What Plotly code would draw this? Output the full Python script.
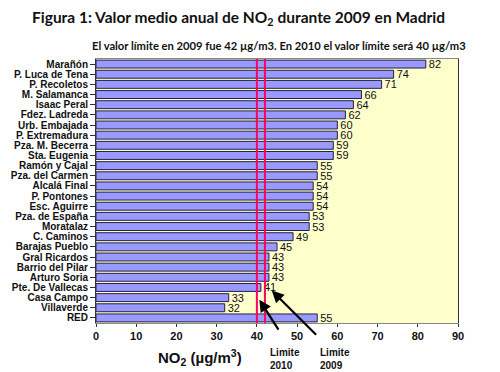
import plotly.graph_objects as go

stations = ["Marañón", "P. Luca de Tena", "P. Recoletos", "M. Salamanca", "Isaac Peral",
            "Fdez. Ladreda", "Urb. Embajada", "P. Extremadura", "Pza. M. Becerra", "Sta. Eugenia",
            "Ramón y Cajal", "Pza. del Carmen", "Alcalá Final", "P. Pontones", "Esc. Aguirre",
            "Pza. de España", "Moratalaz", "C. Caminos", "Barajas Pueblo", "Gral Ricardos",
            "Barrio del Pilar", "Arturo Soria", "Pte. De Vallecas", "Casa Campo", "Villaverde", "RED"]
no2 = [82, 74, 71, 66, 64, 62, 60, 60, 59, 59, 55, 55, 54, 54, 54, 53, 53, 49, 45, 43, 43, 43, 41, 33, 32, 55]
limit_2010 = 40
limit_2009 = 42
x_ticks = [0, 10, 20, 30, 40, 50, 60, 70, 80, 90]

font = "Liberation Sans, Arial, sans-serif"
tfont = "Lato, Open Sans, sans-serif"

L, R, T, B = 96, 42, 59, 49
W, H = 500, 372
PW, PH = W - L - R, H - T - B

def px(xp):
    return (xp - L) / PW

def py(yp):
    return 1 - (yp - T) / PH

fig = go.Figure()
fig.add_trace(go.Bar(
    y=stations, x=no2, orientation="h",
    marker=dict(color="#9999FF", line=dict(color="#222244", width=1)),
    text=[str(v) for v in no2], textposition="outside", constraintext="none",
    textfont=dict(family=font, size=11, color="#111111"),
    cliponaxis=False, width=0.78,
))

for v in (limit_2010, limit_2009):
    fig.add_shape(type="line", x0=v, x1=v, y0=0, y1=1, yref="paper", xref="x",
                  line=dict(color="#FF0066", width=2))

# arrows (head, tail in data coords; y as category index)
fig.add_annotation(x=40.6, y=23.2, xref="x", yref="y", ax=45.6, ay=26.3, axref="x", ayref="y",
                   text="", showarrow=True, arrowhead=2, arrowsize=1.1, arrowwidth=2.2, arrowcolor="#000000")
fig.add_annotation(x=43.7, y=22.3, xref="x", yref="y", ax=55.1, ay=26.8, axref="x", ayref="y",
                   text="", showarrow=True, arrowhead=2, arrowsize=1.1, arrowwidth=2.2, arrowcolor="#000000")

fig.update_layout(
    width=W, height=H,
    margin=dict(l=L, r=R, t=T, b=B),
    paper_bgcolor="white", plot_bgcolor="#FFFFCC",
    showlegend=False, bargap=0.2,
    font=dict(family=font, color="#111111"),
    xaxis=dict(range=[0, 90], tickvals=x_ticks, showgrid=False, zeroline=False, automargin=False,
               ticks="outside", ticklen=3, tickcolor="#333", showline=True, linecolor="#888888", mirror=True,
               tickfont=dict(family=font, size=11, color="#111111", weight="bold")),
    yaxis=dict(range=[len(stations) - 0.5, -0.5], autorange=False, showgrid=False,
               ticks="outside", ticklen=5, tickcolor="#333",
               tickmode="array", tickvals=stations, ticktext=stations,
               showline=True, linecolor="#333333", mirror=True, automargin=False,
               tickfont=dict(family=font, size=10, color="#111111", weight="bold")),
)

fig.add_annotation(xref="paper", yref="paper", x=px(30), y=py(18), xanchor="left", yanchor="middle",
                   text="<b>Figura 1: Valor medio anual de NO<sub>2</sub> durante 2009 en Madrid</b>",
                   showarrow=False, font=dict(family=tfont, size=15.5, color="#111"))
fig.add_annotation(xref="paper", yref="paper", x=px(279), y=py(45), xanchor="center", yanchor="middle",
                   text="<b>El valor límite en 2009 fue 42 µg/m3. En 2010 el valor límite será 40 µg/m3</b>",
                   showarrow=False, font=dict(family=tfont, size=11.2, color="#111"))
fig.add_annotation(xref="paper", yref="paper", x=px(200), y=py(357), xanchor="center", yanchor="middle",
                   text="<b>NO<sub>2</sub> (µg/m<sup>3</sup>)</b>",
                   showarrow=False, font=dict(family=font, size=15, color="#111"))
fig.add_annotation(xref="paper", yref="paper", x=px(268), y=py(345), xanchor="left", yanchor="top",
                   text="<b>Limite<br>2010</b>", align="left",
                   showarrow=False, font=dict(family=font, size=10, color="#111"))
fig.add_annotation(xref="paper", yref="paper", x=px(318), y=py(345), xanchor="left", yanchor="top",
                   text="<b>Limite<br>2009</b>", align="left",
                   showarrow=False, font=dict(family=font, size=10, color="#111"))

fig.write_html("out.html", config={"displayModeBar": False},
               post_script="document.body.style.margin='0';")
